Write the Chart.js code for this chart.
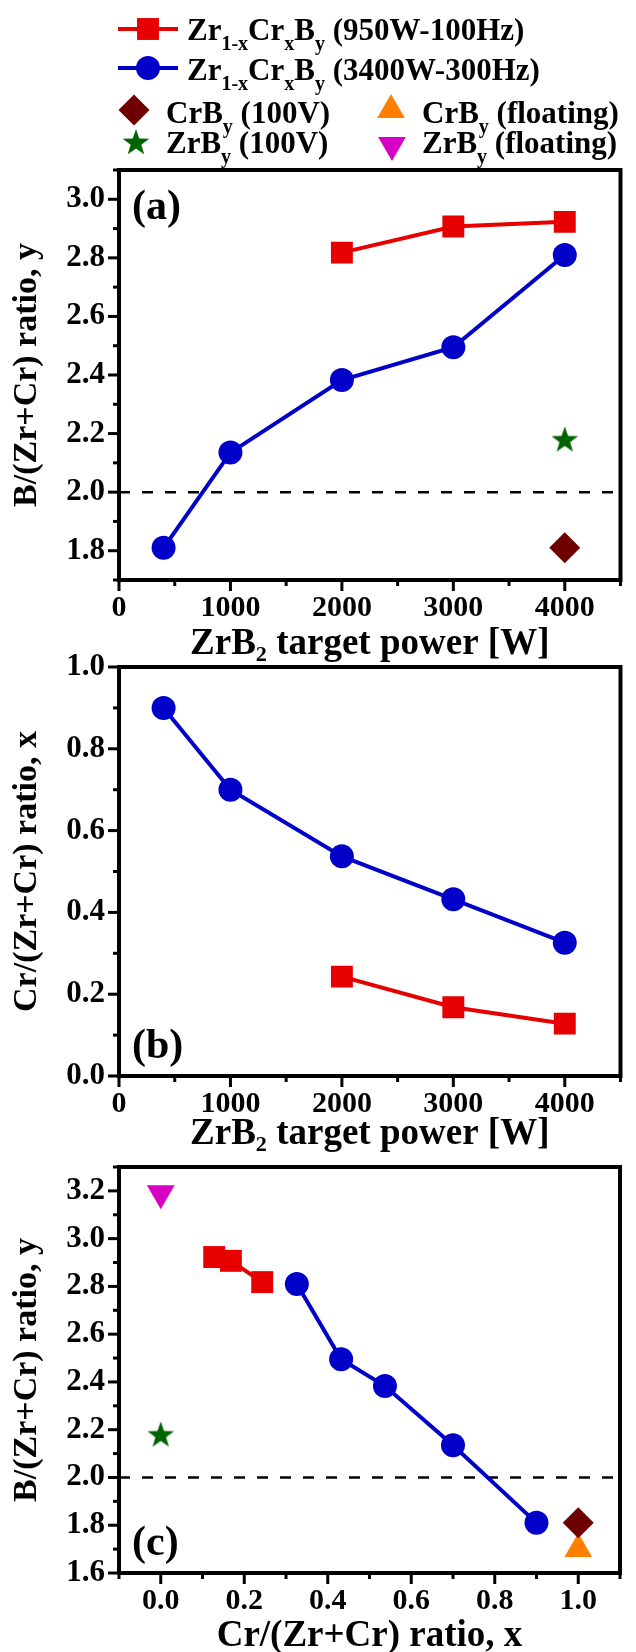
<!DOCTYPE html>
<html>
<head>
<meta charset="utf-8">
<script src="https://cdn.jsdelivr.net/npm/chart.js"></script>
<style>
  html, body { margin: 0; padding: 0; background: #fff; overflow: hidden; }
  #wrap { position: relative; width: 636px; height: 1652px; }
  canvas { position: absolute; left: 0; }
</style>
</head>
<body>
<div id="wrap">
  <canvas id="cA" width="636" height="666" style="top:0px"></canvas>
  <canvas id="cB" width="636" height="539" style="top:617px"></canvas>
  <canvas id="cC" width="636" height="535" style="top:1117px"></canvas>
</div>
<script>
// ZrB2 target power [W] for both series
var powerBlue = [400, 1000, 2000, 3000, 4000];
var powerRed = [2000, 3000, 4000];
// B/(Zr+Cr) ratio, y
var yBlue = [1.81, 2.135, 2.383, 2.495, 2.81];
var yRed = [2.818, 2.907, 2.923];
// Cr/(Zr+Cr) ratio, x
var xBlue = [0.90, 0.70, 0.537, 0.432, 0.326];
var xRed = [0.243, 0.168, 0.128];
// binary reference films
var refPower = [4000];
var crOnly = [1.0];
var zrOnly = [0.0];
var crB100V = [1.81];
var zrB100V = [2.18];
var crBfloat = [1.70];
var zrBfloat = [3.19];
var stoich = 2.0;

// axes
var powerRange = [0, 4500];
var powerTicks = [0, 1000, 2000, 3000, 4000];
var powerMinor = [500, 1500, 2500, 3500, 4500];
var yRangeA = [1.7, 3.1];
var yTicksA = [1.8, 2.0, 2.2, 2.4, 2.6, 2.8, 3.0];
var yMinorA = [1.7, 1.9, 2.1, 2.3, 2.5, 2.7, 2.9, 3.1];
var yRangeB = [0, 1.0];
var yTicksB = [0, 0.2, 0.4, 0.6, 0.8, 1.0];
var yMinorB = [0.1, 0.3, 0.5, 0.7, 0.9];
var xRangeC = [-0.1, 1.1];
var xTicksC = [0, 0.2, 0.4, 0.6, 0.8, 1.0];
var xMinorC = [-0.1, 0.1, 0.3, 0.5, 0.7, 0.9, 1.1];
var yRangeC = [1.6, 3.3];
var yTicksC = [1.6, 1.8, 2.0, 2.2, 2.4, 2.6, 2.8, 3.0, 3.2];
var yMinorC = [1.7, 1.9, 2.1, 2.3, 2.5, 2.7, 2.9, 3.1, 3.3];

var FONT = "'Liberation Serif', 'Times New Roman', serif";
var RED = '#e60000', BLUE = '#0000c8', MAROON = '#6e0000',
    GREEN = '#006400', ORANGE = '#ff8000', MAGENTA = '#d800c4';

const pts = (xs, ys) => xs.map((x, i) => ({x: x, y: ys[i]}));

// filled five point star used as point image
var starImg = (function () {
  var c = document.createElement('canvas');
  c.width = 30; c.height = 30;
  var g = c.getContext('2d');
  g.beginPath();
  for (var i = 0; i < 10; i++) {
    var r = i % 2 ? 5.6 : 14, a = -Math.PI / 2 + i * Math.PI / 5;
    g.lineTo(15 + r * Math.cos(a), 16 + r * Math.sin(a));
  }
  g.closePath();
  g.fillStyle = GREEN;
  g.fill();
  return c;
})();

function mark(ctx, style, x, y, r, color) {
  ctx.fillStyle = color;
  ctx.beginPath();
  if (style === 'rect') {
    var s = r * Math.SQRT1_2;
    ctx.rect(x - s, y - s, 2 * s, 2 * s);
  } else if (style === 'circle') {
    ctx.arc(x, y, r, 0, Math.PI * 2);
  } else if (style === 'rectRot') {
    ctx.moveTo(x, y - r); ctx.lineTo(x + r, y); ctx.lineTo(x, y + r); ctx.lineTo(x - r, y);
  } else if (style === 'triangle') {
    ctx.moveTo(x, y - r);
    ctx.lineTo(x + r * 0.866, y + r / 2);
    ctx.lineTo(x - r * 0.866, y + r / 2);
  } else if (style === 'triangleDown') {
    ctx.moveTo(x, y + r);
    ctx.lineTo(x + r * 0.866, y - r / 2);
    ctx.lineTo(x - r * 0.866, y - r / 2);
  } else if (style === 'star') {
    ctx.drawImage(starImg, x - 15, y - 15);
    return;
  }
  ctx.closePath();
  ctx.fill();
}

function richText(ctx, parts, x, y) {
  parts.forEach(function (p) {
    ctx.font = p[1] ? 'bold 20px ' + FONT : 'bold 31px ' + FONT;
    ctx.fillText(p[0], x, p[1] ? y + 10 : y);
    x += ctx.measureText(p[0]).width;
  });
}

const legendTop = {
  id: 'legendTop',
  afterDraw(chart) {
    var ctx = chart.ctx;
    ctx.save();
    ctx.textAlign = 'left';
    ctx.textBaseline = 'alphabetic';
    // line + marker rows
    [[RED, 'rect', 15.5, 29, 40, ' (950W-100Hz)'],
     [BLUE, 'circle', 12, 68, 80, ' (3400W-300Hz)']].forEach(function (r) {
      ctx.strokeStyle = r[0];
      ctx.lineWidth = 4;
      ctx.beginPath(); ctx.moveTo(118, r[3]); ctx.lineTo(178, r[3]); ctx.stroke();
      mark(ctx, r[1], 148, r[3], r[2], r[0]);
      ctx.fillStyle = '#000';
      richText(ctx, [['Zr'], ['1-x', 1], ['Cr'], ['x', 1], ['B'], ['y', 1], [r[5]]], 187, r[4]);
    });
    mark(ctx, 'rectRot', 134, 110, 15.5, MAROON);
    mark(ctx, 'star', 136, 142, 0, GREEN);
    mark(ctx, 'triangle', 391, 110, 16, ORANGE);
    mark(ctx, 'triangleDown', 392, 145, 16, MAGENTA);
    ctx.fillStyle = '#000';
    richText(ctx, [['CrB'], ['y', 1], [' (100V)']], 166, 123);
    richText(ctx, [['ZrB'], ['y', 1], [' (100V)']], 166, 153);
    richText(ctx, [['CrB'], ['y', 1], [' (floating)']], 422, 123);
    richText(ctx, [['ZrB'], ['y', 1], [' (floating)']], 422, 153);
    ctx.restore();
  }
};

const frameTicks = {
  id: 'frameTicks',
  afterDraw(chart, args, o) {
    var ctx = chart.ctx, a = chart.chartArea, sx = chart.scales.x, sy = chart.scales.y;
    ctx.save();
    ctx.strokeStyle = '#000';
    ctx.lineWidth = 3;
    function tick(x1, y1, x2, y2) { ctx.beginPath(); ctx.moveTo(x1, y1); ctx.lineTo(x2, y2); ctx.stroke(); }
    o.xMajor.forEach(function (v) { var p = sx.getPixelForValue(v); tick(p, a.bottom, p, a.bottom + 11); });
    o.xMinor.forEach(function (v) { var p = sx.getPixelForValue(v); tick(p, a.bottom, p, a.bottom + 6); });
    o.yMajor.forEach(function (v) { var p = sy.getPixelForValue(v); tick(a.left, p, a.left - 11, p); });
    o.yMinor.forEach(function (v) { var p = sy.getPixelForValue(v); tick(a.left, p, a.left - 6, p); });
    ctx.lineWidth = 4;
    ctx.strokeRect(a.left, a.top, a.right - a.left, a.bottom - a.top);
    ctx.fillStyle = '#000';
    ctx.font = 'bold 42px ' + FONT;
    ctx.textAlign = 'left';
    ctx.textBaseline = 'alphabetic';
    ctx.fillText(o.label, a.left + 13, o.fromTop ? a.top + 49 : a.bottom - 18);
    ctx.restore();
  }
};

function makeChart(id, p) {
  var yFmt = function (v) { return v.toFixed(1); };
  return new Chart(id, {
    type: 'scatter',
    data: {datasets: p.datasets},
    options: {
      responsive: false,
      animation: false,
      devicePixelRatio: 1,
      layout: {padding: {top: p.padTop, right: 1, bottom: 0, left: 0}},
      plugins: {
        legend: {display: false},
        tooltip: {enabled: false},
        frameTicks: {label: p.label, fromTop: p.fromTop,
          xMajor: p.xTicks, xMinor: p.xMinor, yMajor: p.yTicks, yMinor: p.yMinor}
      },
      scales: {
        x: {
          type: 'linear', min: p.xRange[0], max: p.xRange[1],
          afterBuildTicks: function (s) { s.ticks = p.xTicks.map(function (v) { return {value: v}; }); },
          afterFit: function (s) { s.height = p.xH; },
          grid: {display: false, drawTicks: false},
          border: {display: false},
          ticks: {autoSkip: false, maxRotation: 0, minRotation: 0, padding: 10, color: '#000',
            font: {family: FONT, size: 30, weight: 'bold'}, callback: p.xFmt},
          title: {display: true, text: p.xTitle, color: '#000',
            font: {family: FONT, size: 37, weight: 'bold'}, padding: {top: 0, bottom: p.xTitlePad}}
        },
        y: {
          type: 'linear', min: p.yRange[0], max: p.yRange[1],
          afterBuildTicks: function (s) { s.ticks = p.yTicks.map(function (v) { return {value: v}; }); },
          afterFit: function (s) { s.width = 119; },
          grid: {display: false, drawTicks: false},
          border: {display: false},
          ticks: {autoSkip: false, padding: 14, color: '#000',
            font: {family: FONT, size: 31, weight: 'bold'}, callback: yFmt},
          title: {display: true, text: p.yTitle, color: '#000',
            font: {family: FONT, size: 34, weight: 'bold'}, padding: {top: 7, bottom: 0}}
        }
      }
    },
    plugins: p.extra ? [p.extra, frameTicks] : [frameTicks]
  });
}

function lineSet(data, color, style, r) {
  return {data: data, showLine: true, borderColor: color, backgroundColor: color, borderWidth: 4,
    pointStyle: style, pointRadius: r, pointHoverRadius: r, pointBorderWidth: 0};
}
function markSet(data, color, style, r, rot) {
  return {data: data, showLine: false, backgroundColor: color, borderColor: color,
    pointStyle: style, pointRadius: r, pointHoverRadius: r, pointBorderWidth: 0, pointRotation: rot || 0};
}
function dashSet(xr) {
  return {data: pts(xr, [stoich, stoich]), showLine: true, borderColor: '#000', borderWidth: 2.5,
    borderDash: [11, 12], pointRadius: 0, pointHoverRadius: 0};
}

var powerFmt = function (v) { return String(v); };
var xTitleP = 'ZrB\u2082 target power [W]';

makeChart('cA', {
  padTop: 170, xH: 86, xTitlePad: -1, label: '(a)', fromTop: true,
  xRange: powerRange, xTicks: powerTicks, xMinor: powerMinor, xFmt: powerFmt, xTitle: xTitleP,
  yRange: yRangeA, yTicks: yTicksA, yMinor: yMinorA, yTitle: 'B/(Zr+Cr) ratio, y',
  extra: legendTop,
  datasets: [
    lineSet(pts(powerRed, yRed), RED, 'rect', 15.5),
    lineSet(pts(powerBlue, yBlue), BLUE, 'circle', 12),
    markSet(pts(refPower, crB100V), MAROON, 'rectRot', 15.5),
    markSet(pts(refPower, zrB100V), GREEN, starImg, 15),
    dashSet(powerRange)
  ]
});

makeChart('cB', {
  padTop: 50, xH: 80, xTitlePad: -1, label: '(b)', fromTop: false,
  xRange: powerRange, xTicks: powerTicks, xMinor: powerMinor, xFmt: powerFmt, xTitle: xTitleP,
  yRange: yRangeB, yTicks: yTicksB, yMinor: yMinorB, yTitle: 'Cr/(Zr+Cr) ratio, x',
  datasets: [
    lineSet(pts(powerRed, xRed), RED, 'rect', 15.5),
    lineSet(pts(powerBlue, xBlue), BLUE, 'circle', 12)
  ]
});

makeChart('cC', {
  padTop: 50, xH: 79, xTitlePad: -7, label: '(c)', fromTop: false,
  xRange: xRangeC, xTicks: xTicksC, xMinor: xMinorC, xFmt: function (v) { return v.toFixed(1); },
  xTitle: 'Cr/(Zr+Cr) ratio, x',
  yRange: yRangeC, yTicks: yTicksC, yMinor: yMinorC, yTitle: 'B/(Zr+Cr) ratio, y',
  datasets: [
    lineSet(pts(xRed, yRed), RED, 'rect', 15.5),
    lineSet(pts(xBlue, yBlue), BLUE, 'circle', 12),
    markSet(pts(crOnly, crB100V), MAROON, 'rectRot', 15.5),
    markSet(pts(crOnly, crBfloat), ORANGE, 'triangle', 16),
    markSet(pts(zrOnly, zrB100V), GREEN, starImg, 15),
    markSet(pts(zrOnly, zrBfloat), MAGENTA, 'triangle', 16, 180),
    dashSet(xRangeC)
  ]
});
</script>
</body>
</html>
